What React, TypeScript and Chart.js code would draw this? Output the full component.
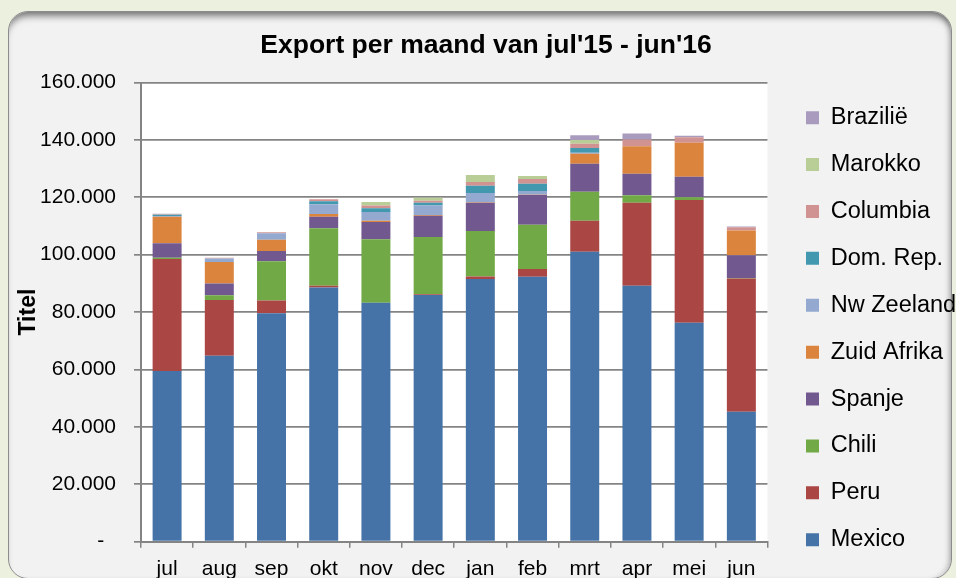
import React, { useEffect, useRef } from "react";
import { Chart, registerables } from "chart.js";

Chart.register(...registerables);

const months = ["jul", "aug", "sep", "okt", "nov", "dec", "jan", "feb", "mrt", "apr", "mei", "jun"];

const mexico = [59500, 64800, 79600, 88600, 83300, 86000, 91500, 92300, 101000, 89200, 76300, 45300];
const peru = [39000, 19400, 4400, 600, 0, 200, 900, 2700, 10800, 28900, 42800, 46400];
const chili = [400, 1700, 13700, 20000, 22100, 20000, 15900, 15400, 10100, 2600, 900, 200];
const spanje = [5100, 4100, 3600, 4000, 6000, 7400, 9800, 10400, 9800, 7500, 7200, 7900];
const zuidAfrika = [9200, 7500, 3900, 1000, 400, 200, 200, 100, 3500, 9600, 11800, 8600];
const nwZeeland = [300, 1200, 2300, 3400, 3100, 3300, 3200, 1300, 300, 0, 0, 0];
const domRep = [400, 0, 0, 1000, 1300, 1000, 2500, 2500, 1700, 0, 0, 0];
const columbia = [200, 200, 300, 700, 900, 700, 1300, 1700, 1500, 2300, 1900, 1200];
const marokko = [0, 0, 0, 0, 1300, 1000, 2500, 1000, 1300, 0, 0, 0];
const brazilie = [200, 0, 0, 0, 0, 0, 0, 0, 1600, 2100, 550, 200];

const seriesNames = ["Mexico", "Peru", "Chili", "Spanje", "Zuid Afrika", "Nw Zeeland", "Dom. Rep.", "Columbia", "Marokko", "Brazilië"];
const seriesValues = [mexico, peru, chili, spanje, zuidAfrika, nwZeeland, domRep, columbia, marokko, brazilie];
const seriesColors = ["#4573A7", "#AA4643", "#70A945", "#71588F", "#DB843D", "#93A9CF", "#4198AF", "#D19392", "#B9CD96", "#A99BBD"];

const chartTitle = "Export per maand van jul'15 - jun'16";
const yAxisTitle = "Titel";
const yMin = 0;
const yMax = 160000;
const yStep = 20000;

const FONT = "'Liberation Sans', Arial, sans-serif";
const GRID = "#848484";

function formatTick(v: number): string {
  if (v === 0) return "-  ";
  return Math.round(v).toString().replace(/\B(?=(\d{3})+(?!\d))/g, ".");
}

const plotBackground = {
  id: "plotBackground",
  beforeDraw(chart: any) {
    const { ctx, chartArea } = chart;
    ctx.save();
    ctx.fillStyle = "#FFFFFF";
    ctx.fillRect(chartArea.left, chartArea.top, chartArea.right - chartArea.left, chartArea.bottom - chartArea.top);
    ctx.restore();
  },
};

const placeBlocks = {
  id: "placeBlocks",
  afterLayout(chart: any) {
    const lg = chart.legend;
    if (lg) {
      const dx = 774.6 - lg.left;
      lg.left += dx;
      lg.right += dx;
      const dy = chart.chartArea.top - lg.top;
      lg.top += dy;
      lg.bottom += dy;
    }
    const tb = chart.titleBlock;
    if (tb) {
      tb.left += 6.5;
      tb.right += 6.5;
    }
  },
};

export default function App() {
  const ref = useRef<HTMLCanvasElement>(null);

  useEffect(() => {
    if (!ref.current) return;
    const chart = new Chart(ref.current, {
      type: "bar",
      data: {
        labels: months,
        datasets: seriesNames.map((name, i) => ({
          label: name,
          data: seriesValues[i],
          backgroundColor: seriesColors[i],
          borderWidth: 0,
          categoryPercentage: 1,
          barPercentage: 0.555,
        })),
      },
      options: {
        responsive: false,
        animation: false,
        devicePixelRatio: 1,
        layout: { padding: { left: 0, right: 5, top: 0, bottom: 0 } },
        plugins: {
          title: {
            display: true,
            text: chartTitle,
            color: "#000",
            font: { family: FONT, size: 26.5, weight: "bold" },
            padding: { top: 17.8, bottom: 20.9 },
          },
          legend: {
            display: true,
            position: "right",
            align: "start",
            reverse: true,
            labels: {
              boxWidth: 13,
              boxHeight: 13,
              padding: 23.4,
              color: "#000",
              font: { family: FONT, size: 23.5 },
            },
          },
          tooltip: { enabled: false },
        },
        scales: {
          x: {
            stacked: true,
            grid: {
              display: true,
              drawOnChartArea: false,
              drawTicks: true,
              tickLength: 6,
              color: GRID,
              lineWidth: 1.5,
              offset: true,
            },
            border: { display: true, color: GRID, width: 2 },
            ticks: {
              color: "#000",
              font: { family: FONT, size: 21 },
              padding: 8.5,
              maxRotation: 0,
              autoSkip: false,
            },
            afterFit: (s: any) => {
              s.height = 36.3;
            },
          },
          y: {
            stacked: true,
            min: yMin,
            max: yMax,
            grid: {
              display: true,
              drawTicks: true,
              tickLength: 7,
              color: GRID,
              lineWidth: 1.7,
            },
            border: { display: true, color: GRID, width: 2 },
            ticks: {
              stepSize: yStep,
              color: "#000",
              font: { family: FONT, size: 21 },
              padding: 18,
              callback: (v: any) => formatTick(Number(v)),
            },
            title: {
              display: true,
              text: yAxisTitle,
              color: "#000",
              font: { family: FONT, size: 23, weight: "bold" },
              padding: { top: 6.6, bottom: 0 },
            },
            afterFit: (s: any) => {
              s.width = 133;
            },
          },
        },
      },
      plugins: [plotBackground, placeBlocks],
    } as any);
    return () => chart.destroy();
  }, []);

  return (
    <div
      style={{
        position: "fixed",
        left: 0,
        top: 0,
        width: 956,
        height: 578,
        background: "#EBF1DE",
        overflow: "hidden",
      }}
    >
      <div
        style={{
          position: "absolute",
          left: 8,
          top: 11,
          width: 944,
          height: 568,
          boxSizing: "border-box",
          borderRadius: 20,
          background: "#F2F2F2",
          border: "1.5px solid #8c8c8c",
          boxShadow:
            "inset 0 8px 7px -4px rgba(0,0,0,0.5), inset -5px 0 6px -4px rgba(0,0,0,0.3)",
        }}
      />
      <canvas
        ref={ref}
        width={948}
        height={566}
        style={{ position: "absolute", left: 8, top: 12, width: 948, height: 566 }}
      />
    </div>
  );
}
